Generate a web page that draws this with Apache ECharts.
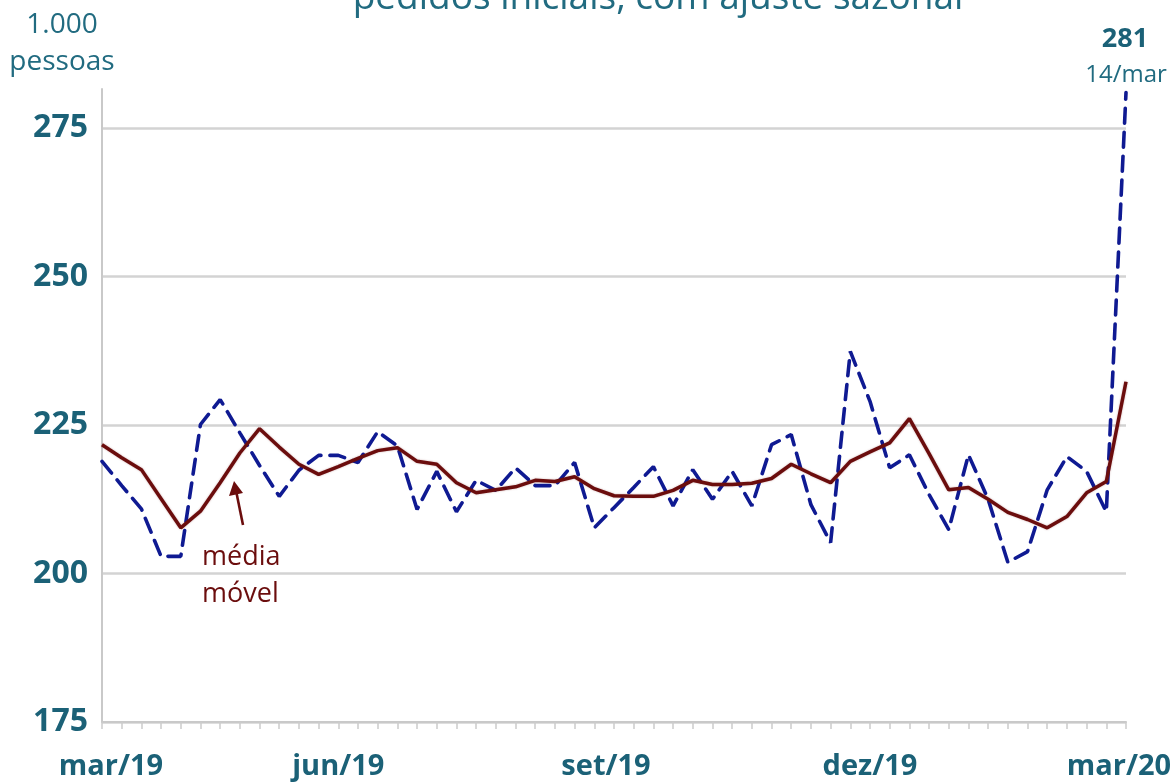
<!DOCTYPE html>
<html>
<head>
<meta charset="utf-8">
<script src="https://cdn.jsdelivr.net/npm/echarts@6/dist/echarts.min.js"></script>
<style>
html,body{margin:0;padding:0;background:#fff;}
#c{width:1175px;height:783px;}
</style>
</head>
<body>
<div id="c"></div>
<script>
// Week-ending dates (Saturdays), 16/mar/2019 .. 14/mar/2020
var weeks = [
 '16/mar/19','23/mar/19','30/mar/19','6/abr/19','13/abr/19','20/abr/19','27/abr/19',
 '4/mai/19','11/mai/19','18/mai/19','25/mai/19',
 '1/jun/19','8/jun/19','15/jun/19','22/jun/19','29/jun/19',
 '6/jul/19','13/jul/19','20/jul/19','27/jul/19',
 '3/ago/19','10/ago/19','17/ago/19','24/ago/19','31/ago/19',
 '7/set/19','14/set/19','21/set/19','28/set/19',
 '5/out/19','12/out/19','19/out/19','26/out/19',
 '2/nov/19','9/nov/19','16/nov/19','23/nov/19','30/nov/19',
 '7/dez/19','14/dez/19','21/dez/19','28/dez/19',
 '4/jan/20','11/jan/20','18/jan/20','25/jan/20',
 '1/fev/20','8/fev/20','15/fev/20','22/fev/20','29/fev/20',
 '7/mar/20','14/mar/20'
];
// Initial claims, seasonally adjusted (thousands)
var claims = [
 218.9,214.8,210.9,202.9,202.9,225.1,229.3,223.7,218.2,213.0,
 217.4,219.9,219.9,218.7,223.9,221.5,210.8,217.2,210.4,215.7,
 214.0,217.8,214.8,214.8,218.7,207.7,211.1,214.5,218.0,211.4,
 217.5,212.5,217.2,211.4,221.7,223.4,211.6,205.2,237.4,229.0,
 217.8,220.0,213.3,207.4,220.0,212.5,201.9,203.7,214.1,219.7,
 217.2,210.4,281.0
];
// 4-week moving average (thousands)
var movingAvg = [
 221.7,219.5,217.5,212.6,207.7,210.5,215.3,220.3,224.4,221.3,
 218.4,216.7,218.0,219.4,220.7,221.2,218.9,218.4,215.3,213.6,
 214.1,214.6,215.7,215.5,216.3,214.3,213.1,213.0,213.0,214.0,
 215.7,215.0,215.0,215.2,216.0,218.4,216.8,215.3,218.9,220.5,
 222.0,226.1,220.2,214.1,214.5,212.5,210.3,209.1,207.7,209.6,
 213.6,215.5,232.3
];
// x-axis tick labels and the weeks they sit on
var tickWeeks  = ['16/mar/19','8/jun/19','14/set/19','14/dez/19','14/mar/20'];
var tickLabels = ['mar/19','jun/19','set/19','dez/19','mar/20'];
var tickStyles = ['first','mid','set','mid','last'];
var yTicks = [175, 200, 225, 250, 275];

var TEAL = '#1b6177';
var TEAL2 = '#216b80';
var RED = '#6b0d0d';
var NAVY = '#0f1a92';
var FONT = 'Open Sans';

var chart = echarts.init(document.getElementById('c'), null, {renderer:'canvas'});

function txt(text, x, baseline, size, weight, color, align){
  return {type:'text', x:x, y:baseline - 0.3*size, silent:true,
    style:{text:text, font: weight+' '+size+'px "'+FONT+'"', fill:color,
      align:align||'center', verticalAlign:'middle'}};
}

var option = {
  backgroundColor:'#ffffff',
  animation:false,
  grid:{left:102, right:49, top:89, bottom:61},
  xAxis:{
    type:'category', data:weeks, boundaryGap:false,
    axisLine:{show:true, lineStyle:{color:'#c9c9c9', width:2}},
    axisTick:{show:true, interval:0, length:7, lineStyle:{color:'#cccccc', width:1.5}},
    splitLine:{show:false},
    axisLabel:{
      interval:0, margin:30, color:TEAL, fontFamily:FONT, fontWeight:'bold', fontSize:29,
      formatter:function(v){
        var k = tickWeeks.indexOf(v);
        if(k<0) return '';
        return '{'+tickStyles[k]+'|'+tickLabels[k]+'}';
      },
      rich:{
        first:{color:TEAL, fontFamily:FONT, fontWeight:'bold', fontSize:29, padding:[0,0,0,18]},
        mid:{color:TEAL, fontFamily:FONT, fontWeight:'bold', fontSize:29},
        set:{color:TEAL, fontFamily:FONT, fontWeight:'bold', fontSize:29, padding:[0,16,0,0]},
        last:{color:TEAL, fontFamily:FONT, fontWeight:'bold', fontSize:29, padding:[0,14,0,0]}
      }
    }
  },
  yAxis:{
    type:'value', min:175, max:281.6, interval:25,
    axisLine:{show:true, lineStyle:{color:'#c9c9c9', width:2}},
    axisTick:{show:false},
    splitLine:{show:true, lineStyle:{color:['#d3d3d3','#d3d3d3','#d3d3d3','#d3d3d3','#d3d3d3','rgba(0,0,0,0)'], width:2.5}},
    axisLabel:{
      margin:14, color:TEAL, fontFamily:FONT, fontWeight:'bold', fontSize:32,
      formatter:function(v){ return yTicks.indexOf(v)>=0 ? String(v) : ''; }
    }
  },
  series:[
    {
      name:'pedidos iniciais', type:'line', data:claims, symbol:'none', z:3,
      lineStyle:{color:NAVY, width:3.6, type:[15,9], cap:'round'}
    },
    {
      name:'média móvel', type:'line', data:movingAvg, symbol:'none', z:4,
      lineStyle:{color:RED, width:3.5, shadowColor:'rgba(107,13,13,0.35)', shadowBlur:2}
    }
  ],
  graphic:[
    txt('pedidos iniciais, com ajuste sazonal', 658, 10, 37, 'normal', TEAL2),
    txt('1.000', 62, 33, 28, 'normal', TEAL2),
    txt('pessoas', 62, 70, 28, 'normal', TEAL2),
    txt('281', 1125, 47, 27, 'bold', TEAL),
    txt('14/mar', 1126, 82, 24, 'normal', TEAL2),
    txt('média', 202, 565, 27, 'normal', RED, 'left'),
    txt('móvel', 202, 602, 27, 'normal', RED, 'left'),
    {type:'line', silent:true, shape:{x1:243, y1:525, x2:236.5, y2:493},
      style:{stroke:RED, lineWidth:2.6}},
    {type:'polygon', silent:true, shape:{points:[[234,481],[243,493],[229,496]]},
      style:{fill:RED}}
  ]
};
chart.setOption(option);
</script>
</body>
</html>
